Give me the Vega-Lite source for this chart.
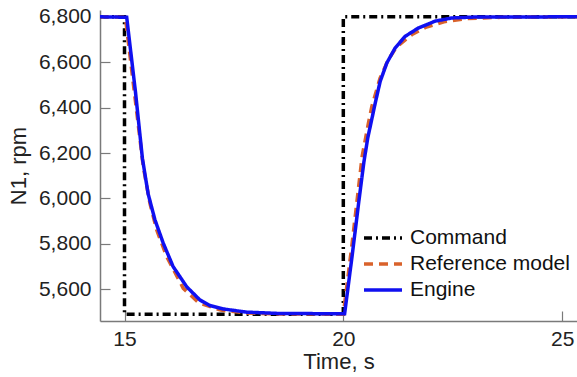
{
  "$schema": "https://vega.github.io/schema/vega-lite/v6.json",
  "width": 477,
  "height": 311,
  "autosize": {"type": "none"},
  "padding": {"left": 100, "top": 10, "right": 0, "bottom": 56},
  "background": "white",
  "config": {
    "font": "Liberation Sans",
    "view": {"stroke": null},
    "axis": {
      "grid": false,
      "domainColor": "#7a7a7a",
      "domainWidth": 1.5,
      "tickColor": "#7a7a7a",
      "tickWidth": 1.2,
      "tickSize": -10,
      "labelFont": "Liberation Sans",
      "labelFontSize": 21,
      "labelColor": "#222222",
      "titleFont": "Liberation Sans",
      "titleFontSize": 22,
      "titleFontWeight": "normal",
      "titleColor": "#222222"
    },
    "legend": {
      "labelFont": "Liberation Sans",
      "labelFontSize": 21,
      "labelColor": "#111111"
    }
  },
  "data": {
    "values": [
      {"series": "Command", "t": 14.44, "v": 6800},
      {"series": "Command", "t": 15.0, "v": 6800},
      {"series": "Command", "t": 15.0, "v": 5490},
      {"series": "Command", "t": 20.0, "v": 5490},
      {"series": "Command", "t": 20.0, "v": 6800},
      {"series": "Command", "t": 25.34, "v": 6800},

      {"series": "Reference model", "t": 14.44, "v": 6800},
      {"series": "Reference model", "t": 15.02, "v": 6798},
      {"series": "Reference model", "t": 15.428, "v": 6141},
      {"series": "Reference model", "t": 15.58, "v": 5979},
      {"series": "Reference model", "t": 15.734, "v": 5862},
      {"series": "Reference model", "t": 15.963, "v": 5744},
      {"series": "Reference model", "t": 16.343, "v": 5604},
      {"series": "Reference model", "t": 16.7, "v": 5540},
      {"series": "Reference model", "t": 17.2, "v": 5508},
      {"series": "Reference model", "t": 17.8, "v": 5495},
      {"series": "Reference model", "t": 18.5, "v": 5491},
      {"series": "Reference model", "t": 20.0, "v": 5490},
      {"series": "Reference model", "t": 20.2, "v": 5800},
      {"series": "Reference model", "t": 20.43, "v": 6185},
      {"series": "Reference model", "t": 20.574, "v": 6332},
      {"series": "Reference model", "t": 20.652, "v": 6405},
      {"series": "Reference model", "t": 20.84, "v": 6530},
      {"series": "Reference model", "t": 21.03, "v": 6612},
      {"series": "Reference model", "t": 21.22, "v": 6668},
      {"series": "Reference model", "t": 21.57, "v": 6722},
      {"series": "Reference model", "t": 21.9, "v": 6755},
      {"series": "Reference model", "t": 22.3, "v": 6778},
      {"series": "Reference model", "t": 22.8, "v": 6792},
      {"series": "Reference model", "t": 23.6, "v": 6798},
      {"series": "Reference model", "t": 25.34, "v": 6800},

      {"series": "Engine", "t": 14.44, "v": 6800},
      {"series": "Engine", "t": 15.05, "v": 6798},
      {"series": "Engine", "t": 15.25, "v": 6470},
      {"series": "Engine", "t": 15.41, "v": 6175},
      {"series": "Engine", "t": 15.54, "v": 6020},
      {"series": "Engine", "t": 15.695, "v": 5906},
      {"series": "Engine", "t": 15.885, "v": 5803},
      {"series": "Engine", "t": 16.11, "v": 5700},
      {"series": "Engine", "t": 16.42, "v": 5611},
      {"series": "Engine", "t": 16.72, "v": 5553},
      {"series": "Engine", "t": 16.95, "v": 5528},
      {"series": "Engine", "t": 17.26, "v": 5513},
      {"series": "Engine", "t": 17.79, "v": 5499},
      {"series": "Engine", "t": 18.55, "v": 5493},
      {"series": "Engine", "t": 20.03, "v": 5492},
      {"series": "Engine", "t": 20.2, "v": 5745},
      {"series": "Engine", "t": 20.36, "v": 5995},
      {"series": "Engine", "t": 20.47, "v": 6160},
      {"series": "Engine", "t": 20.56, "v": 6268},
      {"series": "Engine", "t": 20.652, "v": 6350},
      {"series": "Engine", "t": 20.727, "v": 6418},
      {"series": "Engine", "t": 20.842, "v": 6515},
      {"series": "Engine", "t": 20.995, "v": 6597},
      {"series": "Engine", "t": 21.185, "v": 6663},
      {"series": "Engine", "t": 21.413, "v": 6714},
      {"series": "Engine", "t": 21.718, "v": 6751},
      {"series": "Engine", "t": 22.1, "v": 6781},
      {"series": "Engine", "t": 22.48, "v": 6795},
      {"series": "Engine", "t": 23.0, "v": 6799},
      {"series": "Engine", "t": 25.34, "v": 6800}
    ]
  },
  "mark": {"type": "line", "strokeWidth": 3.5, "clip": true},
  "encoding": {
    "x": {
      "field": "t",
      "type": "quantitative",
      "scale": {"domain": [14.44, 25.34], "nice": false, "zero": false},
      "axis": {"title": "Time, s", "values": [15, 20, 25], "format": "d", "labelPadding": 17, "titlePadding": 2}
    },
    "y": {
      "field": "v",
      "type": "quantitative",
      "scale": {"domain": [5460, 6830], "nice": false, "zero": false},
      "axis": {"title": "N1, rpm", "values": [5600, 5800, 6000, 6200, 6400, 6600, 6800], "format": ",d", "labelPadding": 19, "titlePadding": 8}
    },
    "color": {
      "field": "series",
      "type": "nominal",
      "scale": {"domain": ["Command", "Reference model", "Engine"], "range": ["#000000", "#D9622B", "#1010F0"]},
      "legend": {
        "title": null,
        "orient": "none",
        "legendX": 262,
        "legendY": 215,
        "symbolType": "stroke",
        "symbolSize": 1444,
        "symbolStrokeWidth": 3.5,
        "labelOffset": 6,
        "clipHeight": 26,
        "rowPadding": 0
      }
    },
    "strokeDash": {
      "field": "series",
      "type": "nominal",
      "scale": {"domain": ["Command", "Reference model", "Engine"], "range": [[8, 4, 2, 4], [9, 6], [1, 0]]}
    },
    "order": {"field": "t", "type": "quantitative"}
  }
}
